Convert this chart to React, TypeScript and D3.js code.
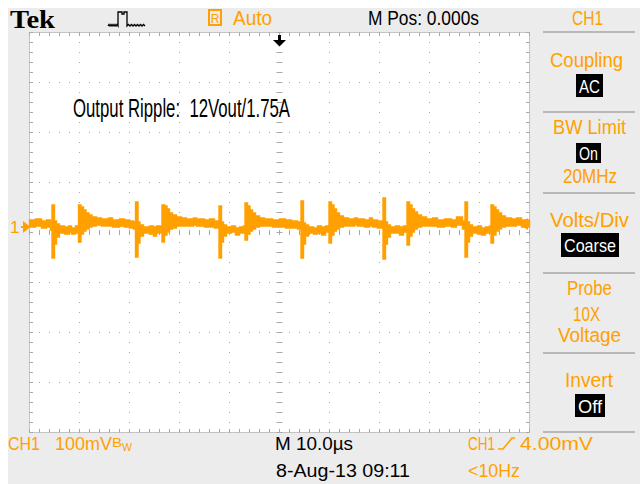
import React from 'react';
import * as d3 from 'd3';

// Time axis: 10 divisions of 10 µs, centred on trigger
const timeDomain: [number, number] = [-50, 50];
// Vertical: 8 divisions of 100 mV, CH1 ground marker slightly above centre
const voltsPerDiv = 100;
const groundOffsetMv = 11;

// Peak-detect envelope of the CH1 trace: [time µs, upper mV, lower mV]
const trace: [number, number, number][] = [
  [-50.0, 14, 0], [-48.8, 16, 2], [-47.6, 12, -2], [-46.6, 14, 0], [-45.8, 10, -6],
  [-45.5, 44, -62], [-45.0, 12, -34], [-44.6, 6, -20], [-44.0, 2, -12], [-43.0, 0, -14],
  [-42.2, 2, -10], [-41.6, -2, -14], [-40.8, 2, -12],
  [-40.2, 44, -30], [-39.7, 40, -14], [-39.2, 34, -8], [-38.7, 28, -4], [-38.1, 24, 0],
  [-37.5, 20, 2], [-36.6, 18, 4], [-35.6, 16, 2], [-34.2, 18, 2], [-33.4, 14, 0],
  [-32.0, 16, 2], [-31.0, 14, 0], [-30.0, 12, -2], [-29.2, 10, -4],
  [-28.8, 50, -60], [-28.3, 10, -32], [-27.9, 4, -18], [-27.2, 0, -12], [-26.0, 2, -14],
  [-25.2, 0, -18], [-24.6, 2, -12], [-23.8, 0, -10],
  [-23.5, 44, -30], [-23.0, 42, -16], [-22.5, 36, -10], [-22.0, 28, -4], [-21.4, 24, -2],
  [-20.6, 20, 2], [-19.6, 18, 2], [-18.6, 16, 2], [-17.2, 18, 4], [-16.6, 16, 2],
  [-15.0, 14, 0], [-14.0, 16, 0], [-13.0, 12, -2],
  [-12.1, 42, -62], [-11.6, 10, -30], [-11.2, 4, -18], [-10.6, 0, -12], [-9.6, 2, -10],
  [-8.8, -2, -16], [-8.0, 0, -12], [-7.2, 2, -12],
  [-6.9, 48, -26], [-6.4, 42, -14], [-5.9, 34, -8], [-5.4, 28, -4], [-4.8, 22, 0],
  [-4.0, 18, 2], [-3.0, 16, 2], [-1.4, 14, 0], [0.0, 16, 0], [1.2, 14, -2],
  [2.4, 12, -2], [3.6, 10, -4],
  [4.3, 52, -62], [4.8, 8, -34], [5.2, 4, -18], [5.8, 0, -12], [6.8, -2, -14],
  [7.6, 2, -12], [8.4, 0, -16], [9.2, 2, -10],
  [9.9, 50, -32], [10.4, 44, -16], [10.9, 36, -8], [11.4, 28, -4], [12.0, 22, 0],
  [12.8, 18, 2], [13.8, 16, 2], [15.0, 18, 4], [15.6, 16, 2], [17.0, 14, 0],
  [18.0, 18, 2], [18.6, 14, 0], [19.6, 12, -2],
  [20.7, 58, -64], [21.2, 10, -34], [21.6, 4, -20], [22.2, 0, -12], [23.2, 2, -12],
  [24.0, 0, -16], [24.8, 2, -10],
  [25.5, 50, -36], [26.0, 44, -18], [26.5, 36, -10], [27.0, 30, -4], [27.6, 24, 0],
  [28.4, 20, 2], [29.4, 16, 2], [30.6, 18, 2], [31.6, 14, 0], [33.0, 16, 2],
  [34.4, 14, 0], [35.4, 20, 4], [36.6, 12, -4],
  [37.1, 50, -60], [37.6, 10, -30], [38.0, 4, -18], [38.6, 0, -12], [39.6, 2, -14],
  [40.4, -2, -16], [41.2, 0, -12], [42.0, 2, -10],
  [42.3, 44, -32], [42.8, 40, -16], [43.3, 34, -8], [43.8, 28, -4], [44.4, 22, 0],
  [45.2, 18, 2], [46.4, 16, 2], [47.4, 18, 4], [48.4, 14, 0], [50.0, 14, 0],
];

const topLabels = ['Tek', 'Auto', 'M Pos: 0.000s', 'CH1'];
const menuTitles = ['Coupling', 'BW Limit', 'Volts/Div', 'Probe', 'Invert'];
const menuValues = ['AC', 'On', 'Coarse', 'Off'];
const menuExtras = ['20MHz', '10X', 'Voltage'];
const bottomLabels = ['CH1', '100mV', 'M 10.0µs', '8-Aug-13 09:11', 'CH1', '4.00mV', '<10Hz'];
const annotation = 'Output Ripple:\u00a0 12Vout/1.75A';

const ORANGE = '#ffa000';
const GRID = '#a8a8a8';
const SANS = '"Liberation Sans", Arial, sans-serif';

export default function App() {
  const gl = 29.5, gt = 32.5, gw = 500, gh = 400;
  const x = d3.scaleLinear().domain(timeDomain).range([gl, gl + gw]);
  const y = d3
    .scaleLinear()
    .domain([-4 * voltsPerDiv - groundOffsetMv, 4 * voltsPerDiv - groundOffsetMv])
    .range([gt + gh, gt]);

  const area = d3
    .area<[number, number, number]>()
    .x((d) => x(d[0]))
    .y0((d) => y(d[2]))
    .y1((d) => y(d[1]))
    .curve(d3.curveStepAfter);

  const divX = d3.range(0, 11).map((i) => gl + i * 50);
  const divY = d3.range(0, 9).map((j) => gt + j * 50);
  const minorX = d3.range(0, 51).map((i) => gl + i * 10);
  const minorY = d3.range(0, 41).map((j) => gt + j * 10);
  const cx = gl + gw / 2;
  const cy = gt + gh / 2;

  const dots: JSX.Element[] = [];
  divX.slice(1, 10).forEach((vx, i) => {
    if (i === 4) return;
    minorY.forEach((vy, j) =>
      dots.push(<rect key={`v${i}-${j}`} x={Math.floor(vx)} y={Math.floor(vy)} width={1} height={1} fill={GRID} />)
    );
  });
  divY.slice(1, 8).forEach((vy, j) => {
    if (j === 3) return;
    minorX.forEach((vx, i) =>
      dots.push(<rect key={`h${j}-${i}`} x={Math.floor(vx)} y={Math.floor(vy)} width={1} height={1} fill={GRID} />)
    );
  });

  const ticks: JSX.Element[] = [];
  minorX.forEach((vx, i) => {
    ticks.push(<line key={`ct${i}`} x1={vx} x2={vx} y1={cy - 2.5} y2={cy + 2.5} />);
    ticks.push(<line key={`tt${i}`} x1={vx} x2={vx} y1={gt} y2={gt + 3.5} />);
    ticks.push(<line key={`bt${i}`} x1={vx} x2={vx} y1={gt + gh - 3.5} y2={gt + gh} />);
  });
  minorY.forEach((vy, j) => {
    ticks.push(<line key={`cv${j}`} x1={cx - 3} x2={cx + 3} y1={vy} y2={vy} />);
    ticks.push(<line key={`lt${j}`} x1={gl} x2={gl + 3.5} y1={vy} y2={vy} />);
    ticks.push(<line key={`rt${j}`} x1={gl + gw - 3.5} x2={gl + gw} y1={vy} y2={vy} />);
  });

  const sepYs = [32, 112, 193, 273, 353, 432];
  const titlePos = [
    { x: 550, y: 67, w: 73 },
    { x: 553, y: 134, w: 73 },
    { x: 550, y: 227, w: 79 },
    { x: 567, y: 295, w: 45 },
    { x: 565, y: 387, w: 48 },
  ];
  const valuePos = [
    { x: 576, y: 74, w: 27, h: 23, tw: 21 },
    { x: 576, y: 143, w: 25, h: 20, tw: 19 },
    { x: 561, y: 233, w: 58, h: 24, tw: 52 },
    { x: 575, y: 394, w: 30, h: 23, tw: 24 },
  ];
  const extraPos = [
    { x: 563, y: 183, w: 54 },
    { x: 573, y: 321, w: 27 },
    { x: 558, y: 342, w: 63 },
  ];

  const trigLevelY = y(4);

  return (
    <svg
      width={640}
      height={484}
      style={{ position: 'absolute', left: 0, top: 0 }}
      fontFamily={SANS}
    >
      <rect x={0} y={0} width={640} height={484} fill="#ffffff" />
      <rect x={8} y={8} width={632} height={476} fill="#ececec" />
      {/* graticule */}
      <rect x={gl} y={gt} width={gw} height={gh} fill="#ffffff" stroke="#c4c4c4" strokeWidth={1} />
      <g>{dots}</g>
      <g stroke={GRID} strokeWidth={1}>{ticks}</g>

      {/* trace */}
      <path d={area(trace) || ''} fill={ORANGE} stroke={ORANGE} strokeWidth={1.4} strokeLinejoin="miter" />

      {/* ground marker */}
      <text x={10} y={233} fontSize={17} fill={ORANGE}>1</text>
      <path d={`M21,${y(0)} L25,${y(0)} M24,${y(0) - 4} L29,${y(0)} L24,${y(0) + 4} Z`} stroke={ORANGE} strokeWidth={2} fill={ORANGE} />
      {/* trigger level marker */}
      <path d={`M518,${trigLevelY - 1} L528,${trigLevelY - 7} L528,${trigLevelY + 5} Z`} fill={ORANGE} />
      {/* trigger position marker */}
      <rect x={278} y={35} width={3} height={5} fill="#000" />
      <path d="M273,40 L286,40 L279.5,46.5 Z" fill="#000" />

      {/* top bar */}
      <text x={10} y={28} fontFamily='"Liberation Serif", "DejaVu Serif", serif' fontWeight="bold" fontSize={26} textLength={45} lengthAdjust="spacingAndGlyphs">{topLabels[0]}</text>
      <path
        d="M108,26 l1,-1.5 l1,1.5 l1,-1.5 l1,1.5 l1,-1.5 l1,1.5 l1,-1.5 l1,1.5 l1,-1.5 l1,1.5 L118,26 L118,12 L122,12 L122,14 L124,14 L124,12 L127,12 L127,26 l1.5,-1.5 l1.5,1.5 l1.5,-1.5 l1.5,1.5 l1.5,-1.5 l1.5,1.5 l1.5,-1.5 l1.5,1.5 l1.5,-1.5 l1.5,1.5 l1.5,-1.5 l1.5,1.5"
        fill="none"
        stroke="#000"
        strokeWidth={1.3}
      />
      <rect x={209} y={10} width={12} height={15} fill="none" stroke={ORANGE} strokeWidth={2} />
      <text x={215} y={22.5} fontSize={12} fill={ORANGE} textAnchor="middle">R</text>
      <text x={233} y={25} fontSize={20} fill={ORANGE} textLength={39} lengthAdjust="spacingAndGlyphs">{topLabels[1]}</text>
      <text x={368} y={25} fontSize={20} fill="#000" textLength={111} lengthAdjust="spacingAndGlyphs">{topLabels[2]}</text>
      <text x={572} y={25} fontSize={20} fill={ORANGE} textLength={31} lengthAdjust="spacingAndGlyphs">{topLabels[3]}</text>

      {/* menu separators */}
      {sepYs.map((sy) => (
        <line key={sy} x1={543} x2={635} y1={sy} y2={sy} stroke="#b8b8b8" strokeWidth={2} />
      ))}

      {/* menu titles */}
      {menuTitles.map((t, i) => (
        <text key={t} x={titlePos[i].x} y={titlePos[i].y} fontSize={20} fill={ORANGE} textLength={titlePos[i].w} lengthAdjust="spacingAndGlyphs">{t}</text>
      ))}
      {menuExtras.map((t, i) => (
        <text key={t} x={extraPos[i].x} y={extraPos[i].y} fontSize={20} fill={ORANGE} textLength={extraPos[i].w} lengthAdjust="spacingAndGlyphs">{t}</text>
      ))}
      {menuValues.map((t, i) => {
        const p = valuePos[i];
        return (
          <g key={t}>
            <rect x={p.x} y={p.y} width={p.w} height={p.h} fill="#000" />
            <text x={p.x + (p.w - p.tw) / 2} y={p.y + p.h / 2 + 7} fontSize={19} fill="#fff" textLength={p.tw} lengthAdjust="spacingAndGlyphs">{t}</text>
          </g>
        );
      })}

      {/* bottom status */}
      <text x={8} y={450} fontSize={18} fill={ORANGE} textLength={32} lengthAdjust="spacingAndGlyphs">{bottomLabels[0]}</text>
      <text x={55} y={450} fontSize={18} fill={ORANGE} textLength={57} lengthAdjust="spacingAndGlyphs">{bottomLabels[1]}</text>
      <text x={112} y={447} fontSize={12} fill={ORANGE} textLength={10} lengthAdjust="spacingAndGlyphs">B</text>
      <text x={122} y={451} fontSize={10} fill={ORANGE} textLength={10} lengthAdjust="spacingAndGlyphs">W</text>
      <text x={275} y={450} fontSize={18} fill="#000" textLength={78} lengthAdjust="spacingAndGlyphs">{bottomLabels[2]}</text>
      <text x={276} y={477} fontSize={18} fill="#000" textLength={134} lengthAdjust="spacingAndGlyphs">{bottomLabels[3]}</text>
      <text x={468} y={450} fontSize={18} fill={ORANGE} textLength={27} lengthAdjust="spacingAndGlyphs">{bottomLabels[4]}</text>
      <path d="M498,449 L503,449 L512,438 L515,438" fill="none" stroke={ORANGE} strokeWidth={1.6} />
      <text x={520} y={450} fontSize={18} fill={ORANGE} textLength={73} lengthAdjust="spacingAndGlyphs">{bottomLabels[5]}</text>
      <text x={468} y={477} fontSize={18} fill={ORANGE} textLength={52} lengthAdjust="spacingAndGlyphs">{bottomLabels[6]}</text>

      {/* annotation */}
      <text x={73} y={117} fontSize={26} fill="#000" textLength={217} lengthAdjust="spacingAndGlyphs">{annotation}</text>
    </svg>
  );
}
